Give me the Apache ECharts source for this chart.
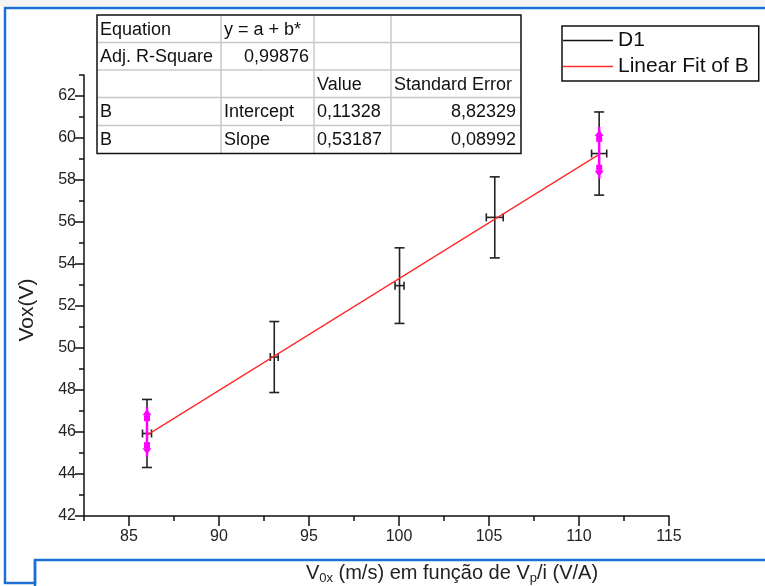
<!DOCTYPE html>
<html>
<head>
<meta charset="utf-8">
<script src="https://cdn.jsdelivr.net/npm/echarts@6/dist/echarts.min.js"></script>
<style>
  html, body { margin: 0; padding: 0; background: #fff; }
  #chart { width: 765px; height: 586px; }
</style>
</head>
<body>
<div id="chart"></div>
<script>
// data points
var vx = [86.0, 93.07, 100.03, 105.32, 111.12];
var vy = [45.93, 49.57, 52.97, 56.22, 59.26];
var xErr = [0.25, 0.22, 0.25, 0.47, 0.42];
var yErr = [1.62, 1.69, 1.8, 1.93, 1.98];

// linear fit endpoints
var fitX = [86.0, 111.12];
var fitY = [45.85, 59.22];

// magenta markers: x, low, high, up arrow, down arrow
var magX = [86.0, 111.12];
var magLow = [44.82, 58.06];
var magHigh = [47.19, 60.53];
var magUp = [46.80, 60.10];
var magDown = [45.23, 58.44];

// ticks
var xMajor = [85, 90, 95, 100, 105, 110, 115];
var xMinor = [82.5, 87.5, 92.5, 97.5, 102.5, 107.5, 112.5];
var yMajor = [42, 44, 46, 48, 50, 52, 54, 56, 58, 60, 62];
var yMinor = [43, 45, 47, 49, 51, 53, 55, 57, 59, 61, 63];

// fit table
var tableRows = [
  ['Equation', 'y = a + b*', '', ''],
  ['Adj. R-Square', '0,99876', '', ''],
  ['', '', 'Value', 'Standard Error'],
  ['B', 'Intercept', '0,11328', '8,82329'],
  ['B', 'Slope', '0,53187', '0,08992']
];
var tableAlign = [
  ['left', 'left', 'left', 'left'],
  ['left', 'right', 'left', 'left'],
  ['left', 'left', 'left', 'left'],
  ['left', 'left', 'left', 'right'],
  ['left', 'left', 'left', 'right']
];

var FONT = 'Liberation Sans, Arial, sans-serif';
var colX = [97, 221, 314, 391, 521];
var rowY = [15, 42.5, 70, 97.5, 125.5, 153.5];

function buildTable() {
  var items = [];
  // inner grey lines
  for (var r = 1; r < rowY.length - 1; r++) {
    items.push({ type: 'line', shape: { x1: colX[0], y1: rowY[r], x2: colX[4], y2: rowY[r] },
      style: { stroke: '#c8c8c8', lineWidth: 1.5 } });
  }
  for (var c = 1; c < colX.length - 1; c++) {
    items.push({ type: 'line', shape: { x1: colX[c], y1: rowY[0], x2: colX[c], y2: rowY[5] },
      style: { stroke: '#c8c8c8', lineWidth: 1.5 } });
  }
  items.push({ type: 'rect', shape: { x: colX[0], y: rowY[0], width: colX[4] - colX[0], height: rowY[5] - rowY[0] },
    style: { fill: null, stroke: '#111', lineWidth: 1.5 } });
  tableRows.forEach(function (row, r) {
    row.forEach(function (txt, c) {
      if (!txt) return;
      var al = tableAlign[r][c];
      items.push({
        type: 'text',
        x: al === 'right' ? colX[c + 1] - 5 : colX[c] + 3,
        y: (rowY[r] + rowY[r + 1]) / 2 + 1,
        style: { text: txt, font: '18px ' + FONT, fill: '#111', align: al, verticalAlign: 'middle' }
      });
    });
  });
  return items;
}

var myChart = echarts.init(document.getElementById('chart'));

var option = {
  backgroundColor: '#fff',
  animation: false,
  grid: { left: 84, right: 96, top: 75, bottom: 70 },
  legend: {
    orient: 'vertical',
    left: 562,
    top: 26,
    itemWidth: 50,
    itemHeight: 1.5,
    itemGap: 5,
    padding: [4, 10, 4, 1],
    borderColor: '#111',
    borderWidth: 1.5,
    backgroundColor: '#fff',
    textStyle: { fontFamily: FONT, fontSize: 21, color: '#111' },
    data: [
      { name: 'D1', icon: 'rect', itemStyle: { color: '#111' } },
      { name: 'Linear Fit of B', icon: 'rect', itemStyle: { color: '#ff2a2a' } }
    ]
  },
  xAxis: [{
    type: 'value', min: 82.5, max: 115, interval: 2.5,
    position: 'bottom',
    axisLine: { lineStyle: { color: '#111', width: 1.5 } },
    axisTick: { length: 10, lineStyle: { color: '#111', width: 1.5 }, customValues: xMajor },
    axisLabel: { customValues: xMajor, color: '#222', fontSize: 16, fontFamily: FONT, margin: 13 },
    splitLine: { show: false }
  }, {
    type: 'value', min: 82.5, max: 115, interval: 2.5,
    position: 'bottom',
    axisLine: { show: false },
    axisTick: { length: 5, lineStyle: { color: '#111', width: 1.5 }, customValues: xMinor },
    axisLabel: { show: false },
    splitLine: { show: false }
  }],
  yAxis: [{
    type: 'value', min: 42, max: 63, interval: 1,
    position: 'left',
    axisLine: { show: true, lineStyle: { color: '#111', width: 1.5 } },
    axisTick: { show: true, length: 9, lineStyle: { color: '#111', width: 1.5 }, customValues: yMajor },
    axisLabel: { customValues: yMajor, color: '#222', fontSize: 16, fontFamily: FONT, margin: 8 },
    splitLine: { show: false }
  }, {
    type: 'value', min: 42, max: 63, interval: 1,
    position: 'left',
    axisLine: { show: false },
    axisTick: { show: true, length: 5, lineStyle: { color: '#111', width: 1.5 }, customValues: yMinor },
    axisLabel: { show: false },
    splitLine: { show: false }
  }],
  graphic: buildTable().concat([
    // page frame
    { type: 'rect', shape: { x: 0, y: 0, width: 765, height: 6 }, style: { fill: '#f4f4f4' }, z: 0 },
    { type: 'polyline', shape: { points: [[765, 8], [5, 8], [5, 583], [35, 583], [35, 560], [765, 560]] },
      style: { fill: null, stroke: '#1c6fd4', lineWidth: 2.5 } },
    { type: 'line', shape: { x1: 35, y1: 560, x2: 35, y2: 586 }, style: { stroke: '#1c6fd4', lineWidth: 2.5 } },
    // axis titles
    { type: 'text', x: 452, y: 573,
      style: {
        text: '{n|V}{s|0x}{n| (m/s) em função de V}{s|p}{n|/i (V/A)}',
        align: 'center', verticalAlign: 'middle',
        rich: {
          n: { font: '20px ' + FONT, fill: '#222' },
          s: { font: '13px ' + FONT, fill: '#222', padding: [11, 0, 0, 0] }
        }
      } },
    { type: 'text', x: 27, y: 310, rotation: Math.PI / 2,
      style: { text: 'Vox(V)', font: '21px ' + FONT, fill: '#222', align: 'center', verticalAlign: 'middle' } }
  ]),
  series: [
    {
      name: 'Linear Fit of B',
      type: 'line',
      data: fitX.map(function (x, i) { return [x, fitY[i]]; }),
      symbol: 'none',
      lineStyle: { color: '#ff2a2a', width: 1.3 },
      itemStyle: { color: '#ff2a2a' },
      z: 3
    },
    {
      name: 'D1',
      type: 'custom',
      data: vx.map(function (x, i) { return [x, vy[i], xErr[i], yErr[i]]; }),
      itemStyle: { color: '#111' },
      renderItem: function (params, api) {
        var x = api.value(0), y = api.value(1), ex = api.value(2), ey = api.value(3);
        var top = api.coord([x, y + ey]);
        var bot = api.coord([x, y - ey]);
        var l = api.coord([x - ex, y]);
        var r = api.coord([x + ex, y]);
        var st = { stroke: '#222', lineWidth: 1.6 };
        var cw = 5, ch = 4;
        return {
          type: 'group',
          children: [
            { type: 'line', shape: { x1: top[0], y1: top[1], x2: bot[0], y2: bot[1] }, style: st },
            { type: 'line', shape: { x1: top[0] - cw, y1: top[1], x2: top[0] + cw, y2: top[1] }, style: st },
            { type: 'line', shape: { x1: bot[0] - cw, y1: bot[1], x2: bot[0] + cw, y2: bot[1] }, style: st },
            { type: 'line', shape: { x1: l[0], y1: l[1], x2: r[0], y2: r[1] }, style: st },
            { type: 'line', shape: { x1: l[0], y1: l[1] - ch, x2: l[0], y2: l[1] + ch }, style: st },
            { type: 'line', shape: { x1: r[0], y1: r[1] - ch, x2: r[0], y2: r[1] + ch }, style: st }
          ]
        };
      },
      z: 2
    },
    {
      name: 'mag',
      type: 'custom',
      data: magX.map(function (x, i) { return [x, magLow[i], magHigh[i], magUp[i], magDown[i]]; }),
      renderItem: function (params, api) {
        var x = api.value(0);
        var lo = api.coord([x, api.value(1)]);
        var hi = api.coord([x, api.value(2)]);
        var up = api.coord([x, api.value(3)]);
        var dn = api.coord([x, api.value(4)]);
        var cx = lo[0];
        var fill = { fill: '#ff00ff' };
        return {
          type: 'group',
          children: [
            { type: 'line', shape: { x1: cx, y1: lo[1], x2: cx, y2: hi[1] }, style: { stroke: '#ff00ff', lineWidth: 2.5 } },
            { type: 'polygon', shape: { points: [[cx, up[1] - 6], [cx - 4.5, up[1]], [cx + 4.5, up[1]]] }, style: fill },
            { type: 'rect', shape: { x: cx - 3, y: up[1], width: 6, height: 6 }, style: fill },
            { type: 'polygon', shape: { points: [[cx, dn[1] + 6], [cx - 4.5, dn[1]], [cx + 4.5, dn[1]]] }, style: fill },
            { type: 'rect', shape: { x: cx - 3, y: dn[1] - 6, width: 6, height: 6 }, style: fill }
          ]
        };
      },
      z: 4
    }
  ]
};

myChart.setOption(option);
window.onresize = function () { myChart.resize(); };
</script>
</body>
</html>
